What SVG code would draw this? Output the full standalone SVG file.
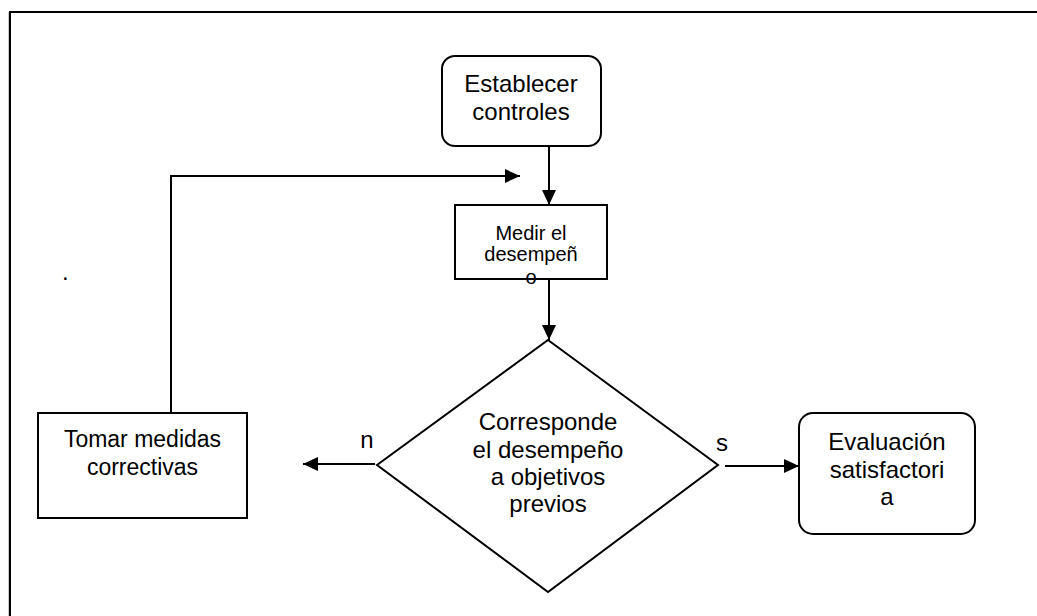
<svg xmlns="http://www.w3.org/2000/svg" width="1037" height="616" viewBox="0 0 1037 616">
  <style>
    .box { fill: #ffffff; stroke: #000000; stroke-width: 2; }
    .lbl { font-family: "Liberation Sans", Arial, sans-serif; font-size: 24px; fill: #000000; text-anchor: middle; }
    .sm { font-size: 20px; }
    .md { font-size: 23px; }
    .edge { fill: none; stroke: #000000; stroke-width: 2; }
  </style>
  <defs>
    <marker id="arrow" viewBox="0 0 15 14" refX="15" refY="7" markerWidth="15" markerHeight="14" markerUnits="userSpaceOnUse" orient="auto">
      <path d="M0,0 L15,7 L0,14 Z" fill="#000000"/>
    </marker>
  </defs>

  <rect width="1037" height="616" fill="#ffffff"/>

  <!-- page frame -->
  <line x1="8.5" y1="12" x2="8.5" y2="616" stroke="#c8c8c8" stroke-width="1"/>
  <path d="M10,616 L10,12 L1037,12" fill="none" stroke="#000000" stroke-width="2"/>

  <!-- stray period -->
  <text class="lbl" x="62" y="280" style="text-anchor:start">.</text>

  <g id="connectors">
    <line class="edge" x1="549" y1="146" x2="549" y2="205" marker-end="url(#arrow)"/>
    <line class="edge" x1="549" y1="280" x2="549" y2="340" marker-end="url(#arrow)"/>
    <line class="edge" x1="375" y1="464" x2="303" y2="464" marker-end="url(#arrow)"/>
    <line class="edge" x1="725" y1="466" x2="799" y2="466" marker-end="url(#arrow)"/>
    <polyline class="edge" points="171,413 171,176 520,176" marker-end="url(#arrow)"/>
    <text class="lbl" x="367" y="448">n</text>
    <text class="lbl" x="722" y="451">s</text>
  </g>

  <g id="establecer">
    <rect class="box" x="442" y="56" width="159" height="90" rx="13"/>
    <text class="lbl" x="521" y="92">Establecer</text>
    <text class="lbl" x="521" y="120">controles</text>
  </g>

  <g id="medir">
    <rect class="box" x="455" y="205" width="152" height="74"/>
    <text class="lbl sm" x="531" y="240">Medir el</text>
    <text class="lbl sm" x="531" y="261">desempeñ</text>
    <text class="lbl sm" x="531" y="284">o</text>
  </g>

  <g id="decision">
    <polygon class="box" points="548,340 718,465 548,592 377,465"/>
    <text class="lbl" x="548" y="430">Corresponde</text>
    <text class="lbl" x="548" y="458">el desempeño</text>
    <text class="lbl" x="548" y="485">a objetivos</text>
    <text class="lbl" x="548" y="512">previos</text>
  </g>

  <g id="tomar">
    <rect class="box" x="38" y="413" width="209" height="105"/>
    <text class="lbl md" x="142.5" y="447">Tomar medidas</text>
    <text class="lbl md" x="142.5" y="475">correctivas</text>
  </g>

  <g id="evaluacion">
    <rect class="box" x="799" y="413" width="176" height="121" rx="14"/>
    <text class="lbl" x="887" y="450">Evaluación</text>
    <text class="lbl" x="887" y="478">satisfactori</text>
    <text class="lbl" x="887" y="505">a</text>
  </g>
</svg>
